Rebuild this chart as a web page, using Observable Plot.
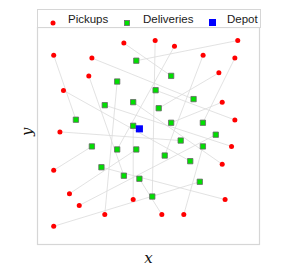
<!DOCTYPE html>
<html>
<head>
<meta charset="utf-8">
<script src="https://cdn.jsdelivr.net/npm/d3@7"></script>
<script src="https://cdn.jsdelivr.net/npm/@observablehq/plot@0.6"></script>
<style>
  html, body { margin: 0; padding: 0; background: #fff; }
  #wrap { position: relative; width: 287px; height: 275px; }
  #legend { position: absolute; left: 37px; top: 9px; width: 222px; height: 17px;
    border: 1px solid #d6d6d6; background: #fff; box-sizing: content-box;
    font-family: "Liberation Sans", Arial, sans-serif; font-size: 11.5px; color: #1a1a1a; }
  #legend span.t { position: absolute; top: 1px; line-height: 16px; }
  #legend span.m { position: absolute; }
</style>
</head>
<body>
<div id="wrap"></div>
<script>
// Pickup locations (data units 0–100)
const pickupX = [38.9, 53.0, 61.7, 90.2, 7.3, 24.5, 74.6, 88.9, 23.1, 81.7, 11.7, 83.2, 88.9, 10.1, 87.4, 83.2, 7.3, 14.4, 18.8, 43.1, 84.5, 30.3, 56.0, 65.9, 7.3];
const pickupY = [92.8, 94.0, 91.4, 94.0, 87.2, 85.9, 87.2, 85.9, 77.7, 79.1, 71.0, 65.6, 57.4, 51.9, 45.2, 37.0, 34.2, 23.4, 18.0, 20.7, 20.7, 13.8, 13.8, 13.8, 8.4];
// Delivery locations, paired with the pickup of the same index
const deliveryX = [60.2, 51.7, 35.9, 44.5, 17.3, 70.3, 57.3, 74.5, 38.9, 54.6, 68.8, 60.2, 53.2, 64.5, 30.3, 43.1, 24.5, 44.5, 80.3, 43.1, 28.8, 35.9, 45.9, 74.5, 73.1];
const deliveryY = [77.7, 22.1, 43.8, 84.7, 57.5, 67.0, 41.0, 56.1, 31.7, 62.8, 38.4, 56.1, 71.1, 47.9, 64.2, 65.6, 45.2, 43.8, 50.6, 54.7, 35.6, 75.1, 30.3, 45.2, 28.9];
const depotX = [45.9];
const depotY = [53.3];
const legendLabels = ["Pickups", "Deliveries", "Depot"];
const axisLabels = ["x", "y"];

const pickups = pickupX.map((x, i) => ({x, y: pickupY[i]}));
const deliveries = deliveryX.map((x, i) => ({x, y: deliveryY[i]}));
const links = pickups.map((p, i) => ({x1: p.x, y1: p.y, x2: deliveries[i].x, y2: deliveries[i].y}));
const depot = depotX.map((x, i) => ({x, y: depotY[i]}));

const chart = Plot.plot({
  width: 287,
  height: 275,
  marginLeft: 37,
  marginRight: 28,
  marginTop: 27,
  marginBottom: 31,
  x: {domain: [0, 100], axis: null},
  y: {domain: [0, 100], axis: null},
  style: {background: "#fff"},
  marks: [
    Plot.frame({stroke: "#d6d6d6", strokeWidth: 1.2}),
    Plot.link(links, {x1: "x1", y1: "y1", x2: "x2", y2: "y2", stroke: "#dadada", strokeWidth: 0.8}),
    Plot.dot(pickups, {x: "x", y: "y", r: 2.5, fill: "#ff0000", stroke: "none"}),
    Plot.dot(deliveries, {x: "x", y: "y", symbol: "square", r: 3, fill: "#00e000", stroke: "#666", strokeWidth: 0.8}),
    Plot.dot(depot, {x: "x", y: "y", symbol: "square", r: 4, fill: "#0000ff", stroke: "none"}),
    Plot.text([axisLabels[0]], {frameAnchor: "bottom", dy: 18, text: d => d, fontSize: 15, fontStyle: "italic", fontFamily: "DejaVu Serif, serif", fill: "#111"}),
    Plot.text([axisLabels[1]], {frameAnchor: "left", dx: -10, rotate: -90, text: d => d, fontSize: 15, fontStyle: "italic", fontFamily: "DejaVu Serif, serif", fill: "#111"})
  ]
});

const wrap = document.getElementById("wrap");
wrap.appendChild(chart);

const legend = document.createElement("div");
legend.id = "legend";
const items = [
  {label: legendLabels[0], markX: 15, textX: 30, html: '<svg width="6" height="6"><circle cx="3" cy="3" r="2.5" fill="#ff0000"/></svg>'},
  {label: legendLabels[1], markX: 89, textX: 105, html: '<svg width="6" height="6"><rect x="0.5" y="0.5" width="5" height="5" fill="#00e000" stroke="#666" stroke-width="0.8"/></svg>'},
  {label: legendLabels[2], markX: 174, textX: 189, html: '<svg width="7" height="7"><rect x="0" y="0" width="7" height="7" fill="#0000ff"/></svg>'}
];
for (const it of items) {
  const m = document.createElement("span");
  m.className = "m";
  m.style.left = (it.markX - 3) + "px";
  m.style.top = "6px";
  m.innerHTML = it.html;
  legend.appendChild(m);
  const t = document.createElement("span");
  t.className = "t";
  t.style.left = it.textX + "px";
  t.textContent = it.label;
  legend.appendChild(t);
}
wrap.appendChild(legend);
</script>
</body>
</html>
